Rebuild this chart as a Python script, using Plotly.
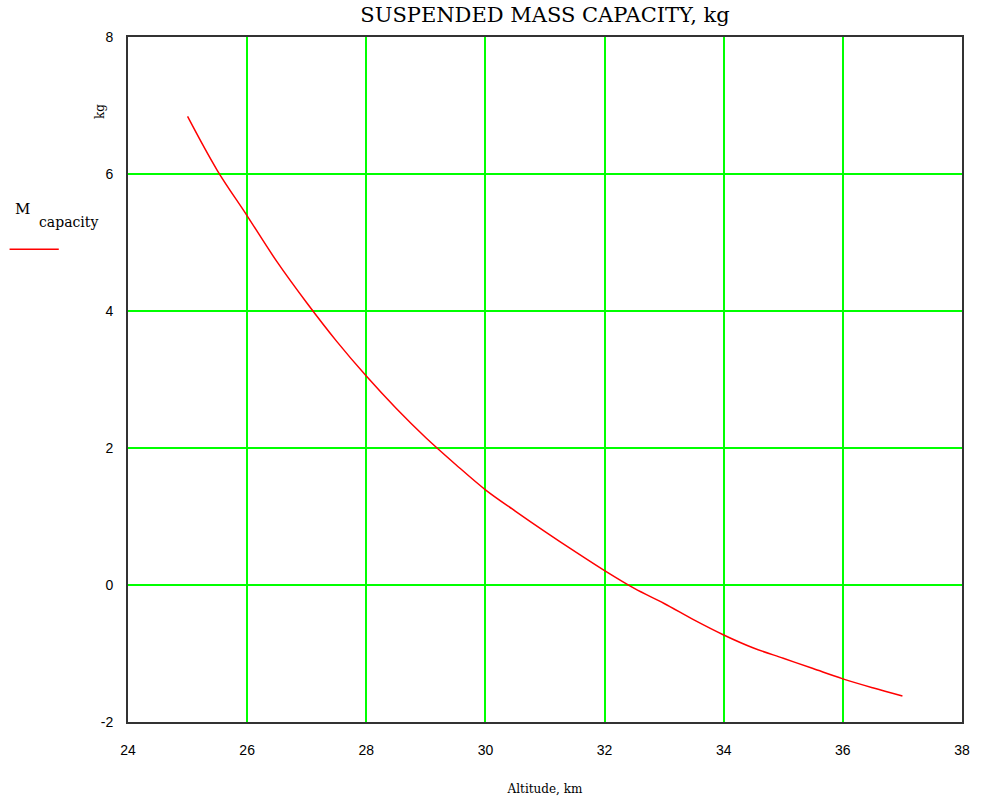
import plotly.graph_objects as go

altitude_km = [25, 25.5, 26, 26.5, 27, 27.5, 28, 28.5, 29, 29.5, 30, 30.5, 31, 31.5,
               32, 32.5, 33, 33.5, 34, 34.5, 35, 35.5, 36, 36.5, 37]
mass_capacity_kg = [6.84, 6.05, 5.39, 4.72, 4.12, 3.56, 3.05, 2.58, 2.15, 1.76, 1.39, 1.08,
                    0.78, 0.49, 0.21, -0.05, -0.27, -0.51, -0.73, -0.92, -1.07, -1.22,
                    -1.37, -1.50, -1.62]

x_ticks = [24, 26, 28, 30, 32, 34, 36, 38]
y_ticks = [-2, 0, 2, 4, 6, 8]
y_tick_labels = ["-2", "0", "2", "4", "6", "8"]

fig = go.Figure()
fig.add_trace(go.Scatter(x=altitude_km, y=mass_capacity_kg, mode="lines",
                         line=dict(color="#FF0000", width=1.5, shape="spline"),
                         showlegend=False))

serif = "DejaVu Serif"
tickfont = dict(family="Liberation Sans", size=14, color="#000000")

fig.update_layout(
    width=982, height=806,
    margin=dict(l=128, r=14, t=37, b=81),
    paper_bgcolor="white", plot_bgcolor="white",
    title=dict(text="SUSPENDED MASS CAPACITY, kg", x=0.5, xref="paper",
               y=1, yref="container", yanchor="top", pad=dict(t=7),
               font=dict(family=serif, size=21, color="#000000")),
    xaxis=dict(range=[24, 38], tickvals=x_ticks, showgrid=True, gridcolor="#00FF00",
               gridwidth=2, zeroline=False, showline=True, mirror=True,
               linecolor="#333333", linewidth=2, ticks="", tickfont=tickfont,
               ticklabelstandoff=14,
               title=dict(text="Altitude, km", standoff=28,
                          font=dict(family=serif, size=12, color="#000000"))),
    yaxis=dict(range=[-2, 8], tickvals=y_ticks, ticktext=y_tick_labels, showgrid=True,
               gridcolor="#00FF00", gridwidth=2, zeroline=False, showline=True,
               mirror=True, linecolor="#333333", linewidth=2, ticks="",
               tickfont=tickfont, ticklabelstandoff=10),
    annotations=[
        dict(text="kg", textangle=-90, xref="paper", yref="paper", x=-0.045, y=0.905,
             showarrow=False, font=dict(family=serif, size=12, color="#000000")),
        dict(text="M", xref="paper", yref="paper", x=-0.138, y=0.765,
             xanchor="left", showarrow=False,
             font=dict(family=serif, size=15, color="#000000")),
        dict(text="capacity", xref="paper", yref="paper", x=-0.109, y=0.745,
             xanchor="left", showarrow=False,
             font=dict(family=serif, size=14, color="#000000")),
    ],
    shapes=[
        dict(type="line", xref="paper", yref="paper", x0=-0.142, x1=-0.083,
             y0=0.69, y1=0.69, line=dict(color="#FF0000", width=1.5)),
    ],
)

fig.write_html("out.html")
